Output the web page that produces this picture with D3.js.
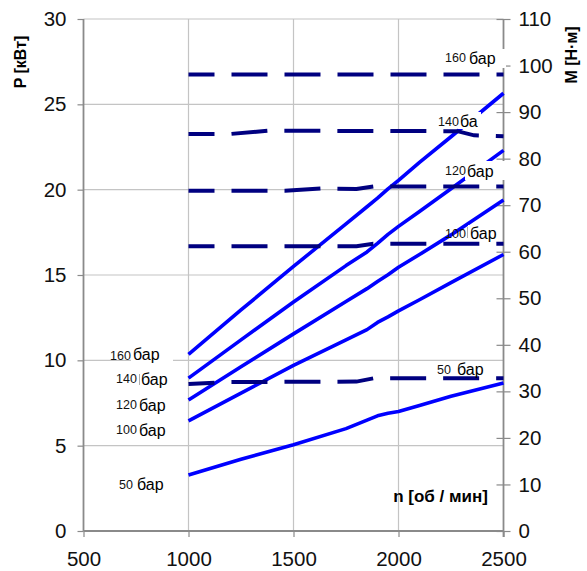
<!DOCTYPE html>
<html><head><meta charset="utf-8">
<script src="https://cdn.jsdelivr.net/npm/d3@7"></script>
<style>body{margin:0;background:#fff}svg{display:block}text{font-family:"Liberation Sans",Arial,sans-serif}</style>
</head><body><svg id="c" width="587" height="571"></svg>
<script>
// ---- data ----
const pressures = [160, 140, 120, 100, 50];
const rpm = [1000, 1250, 1500, 1750, 1850, 1900, 1950, 2000, 2100, 2250, 2500];
const power160 = [10.35, 12.95, 15.5, 18.0, 19.0, 19.5, 20.05, 20.55, 21.6, 23.1, 25.65];
const power140 = [8.96, 11.2, 13.42, 15.55, 16.35, 16.85, 17.38, 17.85, 18.72, 20.05, 22.3];
const power120 = [7.68, 9.62, 11.55, 13.45, 14.2, 14.62, 15.02, 15.45, 16.2, 17.35, 19.4];
const power100 = [6.45, 8.08, 9.7, 11.2, 11.8, 12.22, 12.55, 12.9, 13.55, 14.55, 16.2];
const power50  = [3.28, 4.2, 5.05, 6.0, 6.5, 6.75, 6.9, 7.0, 7.35, 7.9, 8.67];

const torqueRpm160 = [1000, 2500];
const torque160 = [98.1, 98.1];
const torqueRpm140 = [1000, 1200, 1380, 2280, 2360, 2500];
const torque140 = [85.3, 85.3, 86.0, 85.9, 85.0, 84.8];
const torqueRpm120 = [1000, 1460, 1630, 1800, 1880, 2500];
const torque120 = [73.1, 73.1, 73.6, 73.5, 74.0, 74.0];
const torqueRpm100 = [1000, 1800, 1880, 2500];
const torque100 = [61.2, 61.2, 61.7, 61.7];
const torqueRpm50 = [1000, 1200, 1800, 1880, 2500];
const torque50 = [31.6, 32.0, 32.1, 32.8, 32.8];

const xTicks = [500, 1000, 1500, 2000, 2500];
const yLeftTicks = [0, 5, 10, 15, 20, 25, 30];
const yRightTicks = [0, 10, 20, 30, 40, 50, 60, 70, 80, 90, 100, 110];
const unitLabel = "бар";
const xTitle = "n [об / мин]";
const yLeftTitle = "P [кВт]";
const yRightTitle = "M [Н·м]";

// ---- scales ----
const svg = d3.select("#c");
const x = d3.scaleLinear().domain([500, 2500]).range([83.5, 503.5]);
const yL = d3.scaleLinear().domain([0, 30]).range([531, 19]);
const yR = d3.scaleLinear().domain([0, 110]).range([531, 19]);

const gridC = "#c4c4c4", axisC = "#8a8a8a";
// gridlines
svg.append("g").selectAll("line").data(yLeftTicks.filter(d => d > 0)).join("line")
  .attr("x1", x(500)).attr("x2", x(2500)).attr("y1", d => yL(d)).attr("y2", d => yL(d))
  .attr("stroke", gridC).attr("stroke-width", 1.2);
svg.append("g").selectAll("line").data(xTicks.filter(d => d > 500 && d < 2500)).join("line")
  .attr("x1", d => x(d)).attr("x2", d => x(d)).attr("y1", yL(30)).attr("y2", yL(0))
  .attr("stroke", gridC).attr("stroke-width", 1.2);

// axes
const axL = d3.axisLeft(yL).tickValues(yLeftTicks).tickSize(6).tickPadding(11).tickFormat(d3.format("d"));
const gL = svg.append("g").attr("transform", `translate(${x(500)},0)`).call(axL);
const axB = d3.axisBottom(x).tickValues(xTicks).tickSize(6).tickPadding(14).tickFormat(d3.format("d"));
const gB = svg.append("g").attr("transform", `translate(0,${yL(0)})`).call(axB);
const axR = d3.axisRight(yR).tickValues(yRightTicks).tickSize(7).tickPadding(8).tickFormat(d3.format("d"));
const gR = svg.append("g").attr("transform", `translate(${x(2500)},0)`).call(axR);
[gL, gB, gR].forEach(g => {
  g.select(".domain").attr("stroke", axisC).attr("stroke-width", 1.8);
  g.selectAll(".tick line").attr("stroke", axisC).attr("stroke-width", 1.2);
  g.selectAll("text").attr("font-size", 20.5).attr("fill", "#111")
    .attr("font-family", "Liberation Sans, Arial, sans-serif");
});
gR.selectAll(".tick line").attr("x1", -7);
gR.select(".domain").attr("d", `M0,${yR(110)}V${yL(0) + 6}`);
gL.select(".domain").attr("d", `M0,${yL(30)}V${yL(0)}`);
gB.select(".domain").attr("d", `M${x(500)},0H${x(2500)}`);

// power lines
const powerSeries = [power160, power140, power120, power100, power50];
const lineP = d3.line().x((d, i) => x(rpm[i])).y(d => yL(d));
svg.append("g").selectAll("path").data(powerSeries).join("path")
  .attr("d", d => lineP(d)).attr("fill", "none").attr("stroke", "#0000ff")
  .attr("stroke-width", 3.6).attr("stroke-linejoin", "round");

// torque lines
const torqueSeries = [[torqueRpm160, torque160], [torqueRpm140, torque140], [torqueRpm120, torque120],
  [torqueRpm100, torque100], [torqueRpm50, torque50]];
const lineM = d3.line().x(d => x(d[0])).y(d => yR(d[1]));
svg.append("g").selectAll("path").data(torqueSeries).join("path")
  .attr("d", d => lineM(d[0].map((r, i) => [r, d[1][i]]))).attr("fill", "none")
  .attr("stroke", "#000080").attr("stroke-width", 4)
  .attr("stroke-dasharray", "36,17").attr("stroke-dashoffset", 10);

// annotation labels
function label(p, nx, ny, ux, uy, box, unitText) {
  if (box) svg.append("rect").attr("x", box[0]).attr("y", box[1]).attr("width", box[2]).attr("height", box[3]).attr("fill", "#fff");
  svg.append("text").attr("x", nx).attr("y", ny).attr("font-size", 12.5).attr("fill", "#111").text(p);
  svg.append("text").attr("x", ux).attr("y", uy).attr("font-size", 16).attr("fill", "#000").text(unitText || unitLabel);
}
// left
label(pressures[0], 110, 359.5, 133, 360, [131, 346, 42, 20]);
label(pressures[1], 116, 383, 141, 385, [139, 371, 30, 19]);
label(pressures[2], 116, 409, 139, 410.5);
label(pressures[3], 116, 434, 139, 436);
label(pressures[4], 119, 489, 137, 490);
svg.append("line").attr("x1", 139.5).attr("x2", 139.5).attr("y1", 374).attr("y2", 385).attr("stroke", "#999").attr("stroke-width", 0.8);
// right
label(pressures[0], 445, 62, 469, 64, [442, 49, 64, 19]);
label(pressures[1], 438, 125.5, 460, 127, [458, 112, 23, 17], "ба");
label(pressures[2], 445, 175, 467, 176.7, [465, 161, 41, 19]);
label(pressures[3], 445, 237.5, 470, 239.3, [468, 225, 31, 16]);
label(pressures[4], 437, 373.5, 457, 375, [455, 362, 34, 14]);
svg.append("line").attr("x1", 467.5).attr("x2", 467.5).attr("y1", 227).attr("y2", 238).attr("stroke", "#999").attr("stroke-width", 0.8);

// titles
svg.append("text").attr("transform", "translate(26,62) rotate(-90)").attr("text-anchor", "middle")
  .attr("font-size", 16).attr("font-weight", "bold").text(yLeftTitle);
svg.append("text").attr("transform", "translate(577,55) rotate(-90)").attr("text-anchor", "middle")
  .attr("font-size", 16).attr("font-weight", "bold").text(yRightTitle);
svg.append("text").attr("x", 488).attr("y", 502).attr("text-anchor", "end")
  .attr("font-size", 17).attr("font-weight", "bold").text(xTitle);
</script></body></html>
